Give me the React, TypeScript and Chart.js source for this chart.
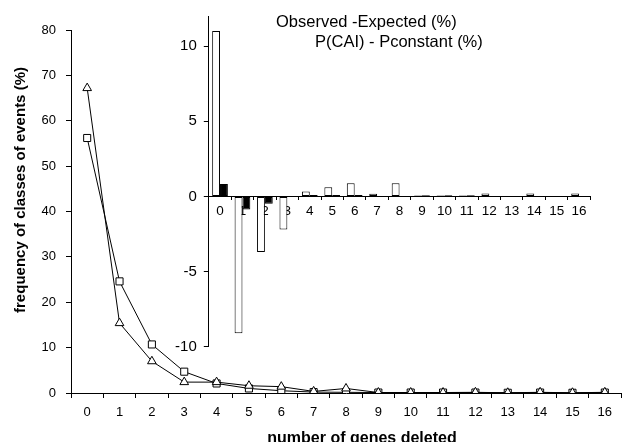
import { useEffect, useRef } from 'react';
import Chart from 'chart.js/auto';

// number of genes deleted
const genesDeleted = ['0', '1', '2', '3', '4', '5', '6', '7', '8', '9', '10', '11', '12', '13', '14', '15', '16'];

// main chart: frequency of classes of events (%)
const observedFreq = [67.2, 15.4, 7.0, 2.4, 2.4, 1.6, 1.4, 0.35, 1.0, 0.1, 0.1, 0.1, 0.15, 0.05, 0.15, 0.05, 0.15];
const expectedFreq = [56.2, 24.6, 10.7, 4.7, 2.1, 1.0, 0.5, 0.2, 0.15, 0.1, 0.1, 0.1, 0.1, 0.05, 0.1, 0.05, 0.1];

// inset: differences (%)
const observedMinusExpected = [11.0, -9.1, -3.7, -2.2, 0.33, 0.6, 0.88, 0.17, 0.88, 0.06, 0.06, 0.06, 0.2, 0, 0.2, 0, 0.2];
const pCaiMinusPconstant = [0.83, -0.88, -0.49, 0, 0.1, 0.1, 0.1, 0, 0, 0.08, 0.08, 0.08, 0, 0, 0, 0, 0];

const mainYTicks = [0, 10, 20, 30, 40, 50, 60, 70, 80];
const insetYTicks = [-10, -5, 0, 5, 10];

const FONT = '"Liberation Sans", Arial, sans-serif';
const W = 627;
const H = 442;

export default function App() {
  const mainRef = useRef<HTMLCanvasElement>(null);
  const insetRef = useRef<HTMLCanvasElement>(null);

  useEffect(() => {
    Chart.defaults.font.family = FONT;
    Chart.defaults.color = '#000';

    // axis titles sit off-centre in the original, so draw them by hand
    const mainTitles = {
      id: 'mainTitles',
      afterDraw(chart: Chart) {
        const ctx = chart.ctx;
        ctx.save();
        ctx.fillStyle = '#000';
        ctx.font = `bold 16px ${FONT}`;
        ctx.textAlign = 'center';
        ctx.textBaseline = 'alphabetic';
        ctx.fillText('number of genes deleted', 362, 443);
        ctx.translate(21, 190);
        ctx.rotate(-Math.PI / 2);
        ctx.font = `bold 15px ${FONT}`;
        ctx.textBaseline = 'middle';
        ctx.fillText('frequency of classes of events (%)', 0, 0);
        ctx.restore();
      },
    };

    const insetLabels = {
      id: 'insetLabels',
      afterDraw(chart: Chart) {
        const ctx = chart.ctx;
        ctx.save();
        ctx.fillStyle = '#000';
        ctx.font = `16.5px ${FONT}`;
        ctx.textAlign = 'left';
        ctx.textBaseline = 'middle';
        ctx.fillText('Observed -Expected (%)', 276, 22);
        ctx.fillText('P(CAI) - Pconstant (%)', 315, 42);
        ctx.restore();
      },
    };

    const mainChart = new Chart(mainRef.current!, {
      type: 'line',
      data: {
        labels: genesDeleted,
        datasets: [
          {
            label: 'observed',
            data: observedFreq,
            borderColor: '#000',
            borderWidth: 1,
            pointStyle: 'triangle',
            pointRadius: 5,
            pointBackgroundColor: '#fff',
            pointBorderColor: '#000',
            pointBorderWidth: 1,
          },
          {
            label: 'expected',
            data: expectedFreq,
            borderColor: '#000',
            borderWidth: 1,
            pointStyle: 'rect',
            pointRadius: 5,
            pointBackgroundColor: '#fff',
            pointBorderColor: '#000',
            pointBorderWidth: 1,
          },
        ],
      },
      options: {
        responsive: false,
        animation: false,
        layout: { padding: { left: 0, right: 0, top: 30, bottom: 0 } },
        plugins: { legend: { display: false }, tooltip: { enabled: false } },
        scales: {
          x: {
            type: 'category',
            offset: true,
            grid: { offset: true, drawOnChartArea: false, tickLength: 5, color: '#000' },
            border: { color: '#000' },
            ticks: { font: { size: 13 }, padding: 7, maxRotation: 0, autoSkip: false },
            afterFit: (s: any) => { s.height = 49; },
          },
          y: {
            min: 0,
            max: 80,
            afterBuildTicks: (s: any) => { s.ticks = mainYTicks.map(v => ({ value: v })); },
            grid: { drawOnChartArea: false, tickLength: 5, color: '#000' },
            border: { color: '#000' },
            ticks: { font: { size: 13 }, padding: 10 },
            afterFit: (s: any) => { s.width = 71; },
          },
        },
      },
      plugins: [mainTitles],
    });

    const insetChart = new Chart(insetRef.current!, {
      type: 'bar',
      data: {
        labels: genesDeleted,
        datasets: [
          {
            label: 'Observed -Expected (%)',
            data: observedMinusExpected,
            backgroundColor: '#fff',
            borderColor: '#000',
            borderWidth: 1,
            borderSkipped: false,
            barPercentage: 1,
            categoryPercentage: 0.7,
          },
          {
            label: 'P(CAI) - Pconstant (%)',
            data: pCaiMinusPconstant,
            backgroundColor: '#000',
            borderColor: '#000',
            borderWidth: 1,
            borderSkipped: false,
            barPercentage: 1,
            categoryPercentage: 0.7,
          },
        ],
      },
      options: {
        responsive: false,
        animation: false,
        layout: { padding: { left: 0, right: W - 590.3, top: 13, bottom: H - 346.7 } },
        plugins: { legend: { display: false }, tooltip: { enabled: false } },
        scales: {
          x: {
            type: 'category',
            position: { y: 0 } as any,
            offset: true,
            grid: { offset: true, drawOnChartArea: false, tickLength: 3, color: '#000' },
            border: { color: '#000' },
            ticks: { font: { size: 13.5 }, padding: 4, maxRotation: 0, autoSkip: false },
          },
          y: {
            min: -10,
            max: 12,
            afterBuildTicks: (s: any) => { s.ticks = insetYTicks.map(v => ({ value: v })); },
            grid: { drawOnChartArea: false, tickLength: 5, color: '#000' },
            border: { color: '#000' },
            ticks: { font: { size: 15 }, padding: 7 },
            afterFit: (s: any) => { s.width = 208.8; },
          },
        },
      },
      plugins: [insetLabels],
    });

    return () => {
      mainChart.destroy();
      insetChart.destroy();
    };
  }, []);

  return (
    <div style={{ position: 'absolute', left: 0, top: 0, width: W, height: H, background: '#fff' }}>
      <canvas ref={mainRef} width={W} height={H} style={{ position: 'absolute', left: 0, top: 0, width: W, height: H }} />
      <canvas ref={insetRef} width={W} height={H} style={{ position: 'absolute', left: 0, top: 0, width: W, height: H }} />
    </div>
  );
}
